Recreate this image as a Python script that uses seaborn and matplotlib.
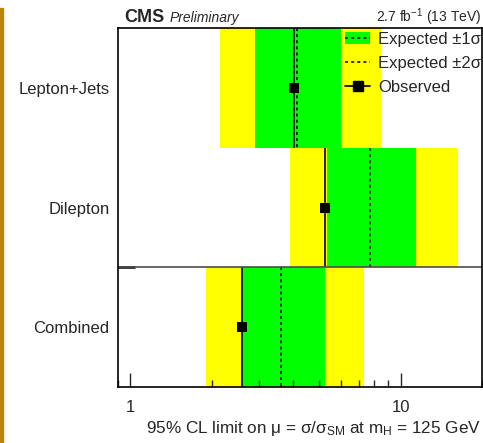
import matplotlib
matplotlib.use("Agg")
import matplotlib.pyplot as plt
import matplotlib.ticker as mticker
from matplotlib.patches import Patch, Rectangle
from matplotlib.lines import Line2D
import numpy as np
import pandas as pd
import seaborn as sns

# limits on mu
channels = ["Lepton+Jets", "Dilepton", "Combined"]
observed = [4.04, 5.24, 2.58]
expected = [4.14, 7.70, 3.61]
exp_1sig_lo = [2.90, 5.32, 2.59]
exp_1sig_hi = [6.03, 11.43, 5.26]
exp_2sig_lo = [2.15, 3.91, 1.90]
exp_2sig_hi = [8.43, 16.3, 7.29]

df = pd.DataFrame({"channel": channels, "obs": observed, "exp": expected,
                   "lo1": exp_1sig_lo, "hi1": exp_1sig_hi,
                   "lo2": exp_2sig_lo, "hi2": exp_2sig_hi})
df["pos"] = np.arange(len(df))

sns.set_style("ticks")
plt.rcParams["font.family"] = ["Liberation Sans", "DejaVu Sans"]
plt.rcParams["mathtext.fontset"] = "custom"
plt.rcParams["mathtext.rm"] = "Liberation Sans"
plt.rcParams["mathtext.it"] = "Liberation Sans:italic"

fig = plt.figure(figsize=(4.83, 4.43), dpi=100)
ax = fig.add_axes([118/483, 1-387/443, 364/483, 359/443])
ax.set_axisbelow(False)

yellow = "#ffff00"
green = "#00ff00"
ax.barh(df.pos, df.hi2 - df.lo2, left=df.lo2, height=1.0, color=yellow, linewidth=0, zorder=1)
ax.barh(df.pos, df.hi1 - df.lo1, left=df.lo1, height=1.0, color=green, linewidth=0, zorder=2)
ax.vlines(df.exp, df.pos - 0.5, df.pos + 0.5, colors="k", linestyles=(0, (2, 2)), lw=1.1, zorder=3)
ax.vlines(df.obs, df.pos - 0.5, df.pos + 0.5, colors="k", lw=1.2, zorder=3)
sns.scatterplot(data=df, x="obs", y="pos", marker="s", s=55, color="k",
                linewidth=0, legend=False, ax=ax, zorder=5)

ax.axhline(1.5, color="0.3", lw=1.2, zorder=4)

ax.set_xscale("log")
ax.set_xlim(0.9, 20)
ax.set_ylim(2.5, -0.5)
ax.xaxis.set_major_locator(mticker.FixedLocator([1, 10]))
ax.xaxis.set_major_formatter(mticker.FixedFormatter(["1", "10"]))
ax.xaxis.set_minor_locator(mticker.LogLocator(base=10, subs=np.arange(2, 10)))
ax.xaxis.set_minor_formatter(mticker.NullFormatter())
ax.tick_params(axis="x", which="major", direction="in", length=10, width=1, labelsize=12, pad=9)
ax.tick_params(axis="x", which="minor", direction="in", length=5, width=1)

ax.set_yticks(df.pos)
ax.set_yticklabels(df.channel)
ax.set_yticks([1.5], minor=True)
ax.tick_params(axis="y", which="major", length=0, labelsize=12, pad=6)
ax.tick_params(axis="y", which="minor", direction="in", length=12, width=2)
ax.set_xlabel("")
ax.set_ylabel("")
for s in ax.spines.values():
    s.set_linewidth(1.2)
    s.set_color("k")
    s.set_zorder(6)

handles = [(Patch(facecolor=green, edgecolor="none"), Line2D([], [], color="k", ls=(0, (2, 2)), lw=1.1)),
           (Patch(facecolor=yellow, edgecolor="none"), Line2D([], [], color="k", ls=(0, (2, 2)), lw=1.1)),
           Line2D([], [], color="k", lw=1.2, marker="s", markersize=7)]
labels = ["Expected \u00b11\u03c3", "Expected \u00b12\u03c3", "Observed"]
ax.legend(handles, labels, loc="upper left", bbox_to_anchor=(0.624, 0.99), frameon=False,
          fontsize=12, handlelength=1.5, handletextpad=0.5, labelspacing=0.55, borderpad=0,
          borderaxespad=0)

fig.text(124/483, 1-22/443, "CMS", fontsize=13, weight="bold", va="baseline")
fig.text(170/483, 1-22/443, "Preliminary", fontsize=10, style="italic", va="baseline")
fig.text(481/483, 1-22/443, r"2.7 fb$^{-1}$ (13 TeV)", fontsize=10, ha="right", va="baseline")
fig.text(481/483, 1-433/443, "95% CL limit on \u03bc = \u03c3/\u03c3$_{\\rm SM}$ at m$_{\\rm H}$ = 125 GeV",
         fontsize=12.3, ha="right", va="baseline")

fig.patches.append(Rectangle((0, 0), 3/483, 435/443, transform=fig.transFigure,
                             color="#b8860b", zorder=10))

fig.savefig("out.png", dpi=100)
